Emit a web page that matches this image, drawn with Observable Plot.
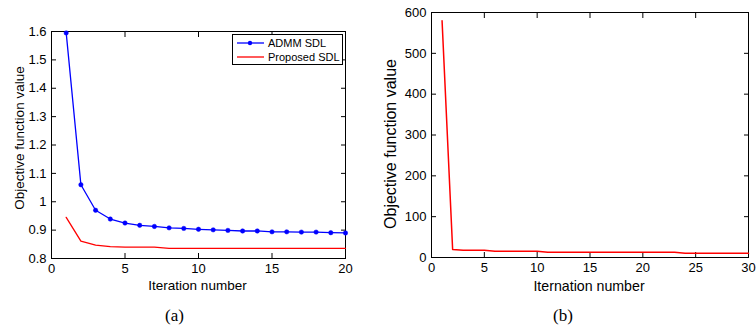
<!DOCTYPE html>
<html><head><meta charset="utf-8">
<script src="https://cdn.jsdelivr.net/npm/d3@7"></script>
<script src="https://cdn.jsdelivr.net/npm/@observablehq/plot@0.6"></script>
<style>
body{margin:0;background:#fff;font-family:"Liberation Sans",Arial,sans-serif;}
#wrap{position:relative;width:756px;height:335px;}
.panel{position:absolute;top:0;}
.cap{position:absolute;top:306px;font-family:"Liberation Serif","Times New Roman",serif;font-size:17px;color:#000;}
.legend{position:absolute;left:232px;top:34px;width:111px;height:31px;border:1px solid #000;background:#fff;font-size:11px;box-sizing:border-box;}
.legend .sw{position:absolute;left:4px;}
.legend .tx{position:absolute;left:35px;line-height:13px;white-space:nowrap;}
</style></head>
<body><div id="wrap"></div>
<script>
// Panel (a)
const iterA = [1,2,3,4,5,6,7,8,9,10,11,12,13,14,15,16,17,18,19,20];
const admm = [1.595,1.06,0.970,0.939,0.925,0.917,0.913,0.908,0.906,0.903,0.901,0.899,0.897,0.897,0.894,0.894,0.893,0.893,0.891,0.890];
const proposedA = [0.945,0.861,0.847,0.842,0.840,0.840,0.840,0.836,0.836,0.836,0.836,0.836,0.836,0.836,0.836,0.836,0.836,0.836,0.836,0.836];
const xTicksA = [0,5,10,15,20];
const yTicksA = [0.8,0.9,1.0,1.1,1.2,1.3,1.4,1.5,1.6];
// Panel (b)
const iterB = [1,2,3,4,5,6,7,8,9,10,11,12,13,14,15,16,17,18,19,20,21,22,23,24,25,26,27,28,29,30];
const proposedB = [580,19.5,17.7,17.7,17.7,15.3,15.3,15.3,15.3,15.3,12.9,12.9,12.9,12.9,12.9,12.9,12.9,12.9,12.9,12.9,12.9,12.9,12.9,10.5,10.5,10.5,10.5,10.5,10.5,10.5];
const xTicksB = [0,5,10,15,20,25,30];
const yTicksB = [0,100,200,300,400,500,600];
const series = ["ADMM SDL","Proposed SDL"];
const colors = ["#0000ff","#ff0000"];
const xLabels = ["Iteration number","Iternation number"];
const yLabel = "Objective function value";

const fmt = d => String(+(+d).toFixed(1));
const wrap = document.getElementById("wrap");

function boxAxes(xt, yt, xlabel, ylabel, o) {
  return [
    Plot.frame({stroke:"#000", strokeWidth:1}),
    Plot.axisX(xt, {anchor:"bottom", tickSize:0, tickPadding:5, tickFormat:fmt, fontSize:13, label:null}),
    Plot.axisX(xt, {anchor:"bottom", tickSize:-5, tickFormat:()=>"", label:null}),
    Plot.axisX(xt, {anchor:"top", tickSize:-5, tickFormat:()=>"", label:null}),
    Plot.axisY(yt, {anchor:"left", tickSize:0, tickPadding:5, tickFormat:fmt, fontSize:13, label:null}),
    Plot.axisY(yt, {anchor:"left", tickSize:-5, tickFormat:()=>"", label:null}),
    Plot.axisY(yt, {anchor:"right", tickSize:-5, tickFormat:()=>"", label:null}),
    Plot.text([xlabel], {text:d=>d, frameAnchor:"bottom", textAnchor:"middle", dx:o.xdx, dy:o.xdy, fontSize:o.xfs, lineAnchor:"middle", fill:"#000"}),
    Plot.text([ylabel], {text:d=>d, frameAnchor:"left", textAnchor:"middle", rotate:-90, dx:o.ydx, dy:o.ydy, fontSize:o.yfs, lineAnchor:"middle", fill:"#000"})
  ];
}

const dataA1 = iterA.map((x,i)=>({x, y:admm[i]}));
const dataA2 = iterA.map((x,i)=>({x, y:proposedA[i]}));
const plotA = Plot.plot({
  width:360, height:300,
  marginLeft:51, marginRight:15, marginTop:31, marginBottom:42,
  style:{fontFamily:"'Liberation Sans', Arial, sans-serif", fontSize:"13px", color:"#000", background:"transparent"},
  x:{domain:[0,20]},
  y:{domain:[0.8,1.6]},
  marks:[
    ...boxAxes(xTicksA, yTicksA, xLabels[0], yLabel, {xdx:-1, xdy:27, xfs:13.5, ydx:-32, ydy:-7, yfs:13.5}),
    Plot.line(dataA2, {x:"x", y:"y", stroke:colors[1], strokeWidth:1.3}),
    Plot.line(dataA1, {x:"x", y:"y", stroke:colors[0], strokeWidth:1.3}),
    Plot.dot(dataA1, {x:"x", y:"y", r:2.2, fill:colors[0], stroke:colors[0], strokeWidth:0.5})
  ]
});
const pa = document.createElement("div"); pa.className="panel"; pa.style.left="0px"; pa.appendChild(plotA); wrap.appendChild(pa);

const dataB = iterB.map((x,i)=>({x, y:proposedB[i]}));
const plotB = Plot.plot({
  width:386, height:300,
  marginLeft:61, marginRight:8, marginTop:12, marginBottom:43,
  style:{fontFamily:"'Liberation Sans', Arial, sans-serif", fontSize:"13px", color:"#000", background:"transparent"},
  x:{domain:[0,30]},
  y:{domain:[0,600]},
  marks:[
    ...boxAxes(xTicksB, yTicksB, xLabels[1], yLabel, {xdx:-1, xdy:29, xfs:14.2, ydx:-41, ydy:9, yfs:16}),
    Plot.line(dataB, {x:"x", y:"y", stroke:colors[1], strokeWidth:1.5})
  ]
});
const pb = document.createElement("div"); pb.className="panel"; pb.style.left="370px"; pb.appendChild(plotB); wrap.appendChild(pb);

// legend
const lg = document.createElement("div"); lg.className="legend";
series.forEach((s,i)=>{
  const top = i===0 ? 2 : 16;
  const marker = i===0 ? `<circle cx="13" cy="6" r="2.2" fill="${colors[0]}"/>` : "";
  const sw = document.createElement("div"); sw.className="sw"; sw.style.top = top+"px";
  sw.innerHTML = `<svg width="27" height="12" style="display:block"><line x1="0" x2="27" y1="6" y2="6" stroke="${colors[i]}" stroke-width="1.3"/>${marker}</svg>`;
  const tx = document.createElement("div"); tx.className="tx"; tx.style.top = (top-0.5)+"px"; tx.textContent = s;
  lg.appendChild(sw); lg.appendChild(tx);
});
wrap.appendChild(lg);

// captions
[["(a)",165],["(b)",553]].forEach(([t,l])=>{
  const c=document.createElement("div"); c.className="cap"; c.style.left=l+"px"; c.textContent=t; wrap.appendChild(c);
});
</script></body></html>
